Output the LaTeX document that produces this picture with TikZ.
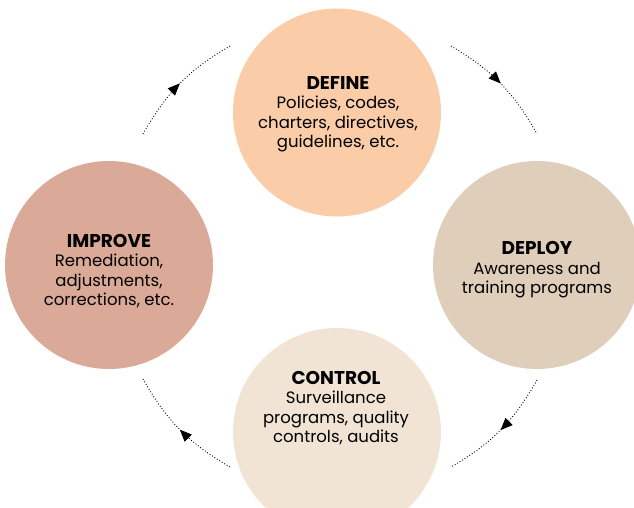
\documentclass[tikz,border=0pt]{standalone}
\usepackage{fontspec}
\setmainfont{Poppins}
\usetikzlibrary{arrows.meta,decorations.markings}
\definecolor{cdefine}{RGB}{250,204,168}
\definecolor{cdeploy}{RGB}{223,206,186}
\definecolor{cimprove}{RGB}{219,169,152}
\definecolor{ccontrol}{RGB}{241,228,213}
\newcommand\mttl[1]{{\fontsize{18.5}{20.5}\selectfont\bfseries #1}}
\tikzset{
  disc/.style={circle, minimum size=208pt, inner sep=0pt, draw=none},
  lbl/.style={align=center, font=\fontsize{16.5}{19.5}\selectfont, text=black, inner sep=0pt},
  cyc/.style={dotted, line width=0.9pt, draw=black,
    postaction={decorate, decoration={markings,
      mark=at position 0.5 with {\arrow{Triangle[length=12pt,width=10pt]}}}}}
}
\begin{document}
\begin{tikzpicture}[x=1pt,y=-1pt]
\useasboundingbox (0,0) rectangle (634,507);
\clip (0,0) rectangle (634,507);
\node[disc, fill=cdefine] (define) at (337,112.5) {};
\node[disc, fill=cdeploy] (deploy) at (537,265) {};
\node[disc, fill=cimprove] (improve) at (109,265) {};
\node[disc, fill=ccontrol] (control) at (337,432) {};
\node[lbl] (tdefine) at (338,114) {\mttl{DEFINE}\\Policies, codes,\\charters, directives,\\guidelines, etc.};
\node[lbl] (tdeploy) at (537,270) {\mttl{DEPLOY}\\Awareness and\\training programs};
\node[lbl] (timprove) at (109,271) {\mttl{IMPROVE}\\Remediation,\\adjustments,\\corrections, etc.};
\node[lbl] (tcontrol) at (336,408) {\mttl{CONTROL}\\Surveillance\\programs, quality\\controls, audits};
\coordinate (a1s) at (143,134); \coordinate (a1e) at (230,46);
\coordinate (a2s) at (451,46);  \coordinate (a2e) at (537,134);
\coordinate (a3s) at (537,380); \coordinate (a3e) at (451,467);
\coordinate (a4s) at (230,467); \coordinate (a4e) at (143,379);
\draw[cyc] (a1s) to[bend left=15] (a1e);
\draw[cyc] (a2s) to[bend left=15] (a2e);
\draw[cyc] (a3s) to[bend left=15] (a3e);
\draw[cyc] (a4s) to[bend left=15] (a4e);
\end{tikzpicture}
\end{document}
